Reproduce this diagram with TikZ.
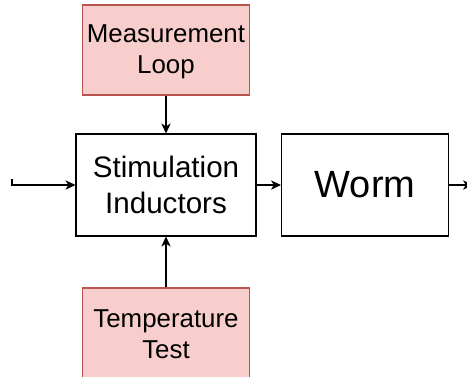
\documentclass[tikz,border=0pt]{standalone}
\usepackage{fontspec}
\setmainfont{Liberation Sans}
\usetikzlibrary{arrows.meta}
\definecolor{pinkfill}{HTML}{F8CECC}
\definecolor{pinkline}{HTML}{B85450}
\begin{document}
\begin{tikzpicture}[x=0.75pt,y=-0.75pt,
  box/.style={draw=black,line width=0.8pt,fill=white,rectangle,inner sep=0pt,align=center,text width=120pt},
  pinkbox/.style={draw=pinkline,line width=0.8pt,fill=pinkfill,rectangle,inner sep=0pt,align=center,text width=120pt,minimum width=125.25pt,minimum height=67.5pt,font=\fontsize{19.4}{23.5}\selectfont},
  conn/.style={line width=0.8pt,-{Stealth[length=7.5pt,width=7pt,inset=2.2pt]}}]
\useasboundingbox (0,0) rectangle (467,376);
\node[pinkbox] (meas) at (166,50) {};
\node (measlabel) at (166,52) [align=center,font=\fontsize{19.4}{23.5}\selectfont] {Measurement\\Loop};
\node[box,minimum width=135pt,minimum height=76.5pt,font=\fontsize{22.2}{27.5}\selectfont] (stim) at (166,185) {Stimulation\\Inductors};
\node[box,minimum width=125.25pt,minimum height=76.5pt,font=\fontsize{28.5}{34}\selectfont] (worm) at (365,185) {Worm};
\node[pinkbox,minimum height=69pt] (temp) at (166,334) {Temperature\\Test};
\coordinate (in) at (12,179);
\coordinate (out) at (473,185);
\draw[conn] (in) -- (12,185) -- (stim.west);
\draw[conn] (meas.south) -- (stim.north);
\draw[conn] (temp.north) -- (stim.south);
\draw[conn] (stim.east) -- (worm.west);
\draw[conn] (worm.east) -- (out);
\end{tikzpicture}
\end{document}
